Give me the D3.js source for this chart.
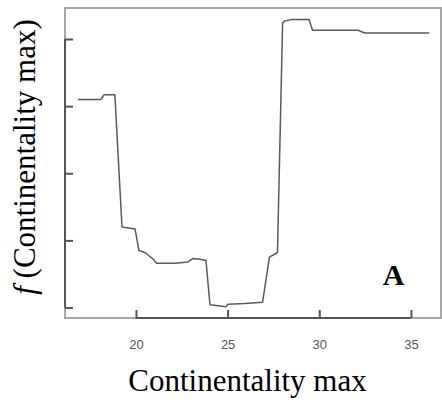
<!DOCTYPE html>
<html>
<head>
<meta charset="utf-8">
<script src="https://cdn.jsdelivr.net/npm/d3@7/dist/d3.min.js"></script>
<style>
  html, body { margin: 0; padding: 0; background: #fff; }
  svg { display: block; }
</style>
</head>
<body>
<svg id="chart" width="442" height="407"></svg>
<script>
// Partial dependence of the response on maximum continentality
const contMax = [16.84, 18.09, 18.26, 18.80, 18.85, 19.24, 19.95, 20.16, 20.49, 20.76,
                 20.94, 21.13, 22.13, 22.84, 23.09, 23.49, 23.82, 24.04, 24.91, 25.02,
                 25.95, 26.91, 27.28, 27.72, 28.00, 28.13, 28.49, 29.44, 29.63, 32.11,
                 32.49, 36.00];
const fValue  = [0.510, 0.510, 0.517, 0.517, 0.517, 0.320, 0.317, 0.285, 0.282, 0.276,
                 0.272, 0.266, 0.266, 0.268, 0.273, 0.272, 0.270, 0.204, 0.201, 0.205,
                 0.206, 0.208, 0.275, 0.282, 0.624, 0.627, 0.629, 0.629, 0.613, 0.613,
                 0.609, 0.609];
const xTicks = [20, 25, 30, 35];
const yTicks = [0.2, 0.3, 0.4, 0.5, 0.6];

const box = { left: 65, right: 441, top: 8, bottom: 318 };

const x = d3.scaleLinear().domain([16.13, 36.64]).range([box.left, box.right]);
const y = d3.scaleLinear().domain([0.1844, 0.6462]).range([box.bottom, box.top]);

const svg = d3.select("#chart");

// plot frame
svg.append("rect")
  .attr("x", box.left).attr("y", box.top)
  .attr("width", box.right - box.left).attr("height", box.bottom - box.top)
  .attr("fill", "none").attr("stroke", "#a8a8a8").attr("stroke-width", 2);

// x axis: inward ticks, dark line spanning first to last tick
const xAxis = svg.append("g")
  .attr("transform", `translate(0,${box.bottom})`)
  .call(d3.axisBottom(x).tickValues(xTicks).tickSize(-8).tickPadding(22));
xAxis.select(".domain").remove();
xAxis.append("line")
  .attr("x1", x(xTicks[0])).attr("x2", x(xTicks[xTicks.length - 1]))
  .attr("stroke", "#555").attr("stroke-width", 2);
xAxis.selectAll(".tick line").attr("stroke", "#555").attr("stroke-width", 2);
xAxis.selectAll(".tick text")
  .attr("fill", "#555")
  .style("font-family", "'Liberation Sans', Arial, sans-serif")
  .style("font-size", "13px");

// y axis: unlabelled inward ticks
const yAxis = svg.append("g")
  .attr("transform", `translate(${box.left},0)`)
  .call(d3.axisLeft(y).tickValues(yTicks).tickSize(-8).tickFormat(""));
yAxis.select(".domain").remove();
yAxis.append("line")
  .attr("y1", y(yTicks[0])).attr("y2", y(yTicks[yTicks.length - 1]))
  .attr("stroke", "#555").attr("stroke-width", 2);
yAxis.selectAll(".tick line").attr("stroke", "#555").attr("stroke-width", 2);

// response curve
const line = d3.line().x((d, i) => x(contMax[i])).y(d => y(d));
svg.append("path")
  .datum(fValue)
  .attr("d", line)
  .attr("fill", "none")
  .attr("stroke", "#5a5a5a")
  .attr("stroke-width", 1.5)
  .attr("stroke-linejoin", "round");

// axis titles
const serif = "'Liberation Serif', 'Times New Roman', serif";
svg.append("text")
  .attr("x", 247.5).attr("y", 391)
  .attr("text-anchor", "middle")
  .style("font-family", serif).style("font-size", "31px")
  .text("Continentality max");

const yTitle = svg.append("text")
  .attr("transform", "translate(35,157) rotate(-90)")
  .attr("text-anchor", "middle")
  .style("font-family", serif).style("font-size", "31px");
yTitle.append("tspan").style("font-style", "italic").text("f");
yTitle.append("tspan").text(" (Continentality max)");

// panel letter
svg.append("text")
  .attr("x", 393.5).attr("y", 285)
  .attr("text-anchor", "middle")
  .style("font-family", serif).style("font-size", "30px").style("font-weight", "bold")
  .text("A");
</script>
</body>
</html>
